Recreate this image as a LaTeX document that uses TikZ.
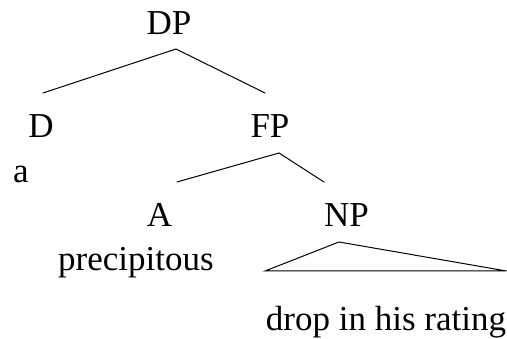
\documentclass[tikz,border=0pt]{standalone}
\usepackage{fontspec}
\setmainfont{Liberation Serif}
\begin{document}
\begin{tikzpicture}[x=1pt,y=-1pt,
  lbl/.style={anchor=base,inner sep=0pt,font=\fontsize{35}{42}\selectfont},
  edge/.style={line width=1pt,line cap=round,line join=miter}]
\useasboundingbox (0,0) rectangle (507,339);
% labels
\node[lbl] (dp) at (169,35) {DP};
\node[lbl] (d) at (41,138) {D};
\node[lbl] (fp) at (270,138) {FP};
\node[lbl] (aw) at (21,183) {a};
\node[lbl] (a) at (159.5,227) {A};
\node[lbl] (np) at (346.5,227) {NP};
\node[lbl] (prec) at (136,271) {precipitous};
\node[lbl] (drop) at (386,331) {drop in his rating};
% branch points
\coordinate (dpB) at (176,49);
\coordinate (dT) at (43,93);
\coordinate (fpT) at (265,93);
\coordinate (fpB) at (279,153);
\coordinate (aT) at (177,182);
\coordinate (npT) at (324,182);
\coordinate (npB) at (339,242);
\coordinate (triL) at (265,271);
\coordinate (triR) at (506.5,271);
% branches
\draw[edge] (dT) -- (dpB) -- (fpT);
\draw[edge] (aT) -- (fpB) -- (npT);
\draw[edge] (triL) -- (npB) -- (triR) -- cycle;
\end{tikzpicture}
\end{document}
